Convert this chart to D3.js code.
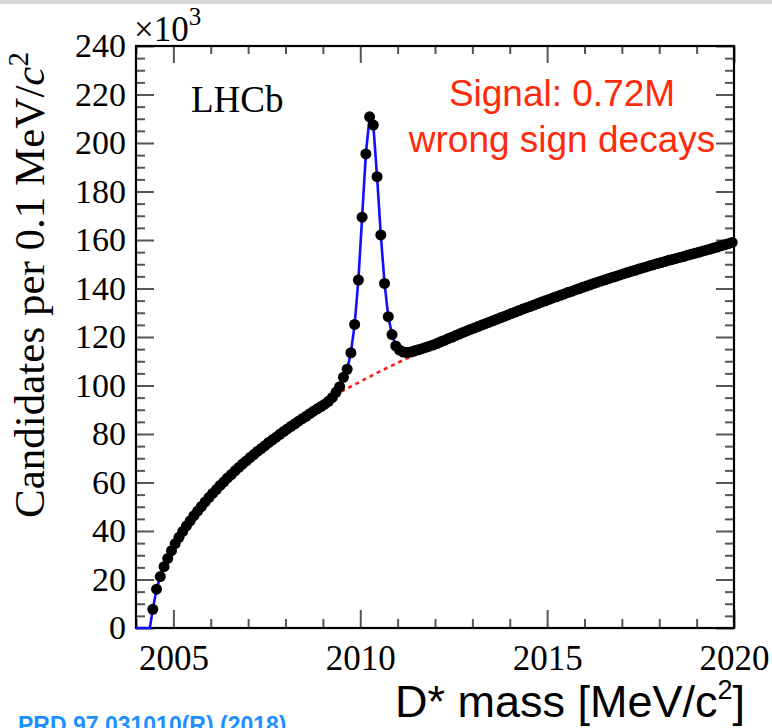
<!DOCTYPE html>
<html>
<head>
<meta charset="utf-8">
<script src="https://cdn.jsdelivr.net/npm/d3@7"></script>
<style>
  body { margin: 0; background: #fff; }
  svg { display: block; }
</style>
</head>
<body>
<div class="chart"></div>
<script>
// bin centres every 0.1 MeV starting at 2004.45
const massStart = 2004.45;
const massStep = 0.1;
const candidates = [
  7.7, 16.0, 21.2, 25.3, 28.7, 31.9, 34.8, 37.4, 39.8, 42.1,
  44.2, 46.3, 48.2, 50.1, 52.0, 53.8, 55.5, 57.1, 58.8, 60.3,
  61.9, 63.3, 64.8, 66.2, 67.6, 68.9, 70.3, 71.5, 72.8, 74.0,
  75.2, 76.5, 77.6, 78.7, 79.9, 81.0, 82.1, 83.2, 84.2, 85.3,
  86.3, 87.3, 88.4, 89.4, 90.4, 91.3, 92.3, 93.5, 95.0, 97.2,
  99.5, 103.4, 106.7, 113.5, 125.2, 143.5, 169.4, 195.5, 210.8, 207.4,
  186.1, 162.1, 142.1, 128.4, 121.0, 116.3, 114.6, 113.8, 113.6, 113.8,
  114.3, 114.7, 115.2, 115.7, 116.2, 116.7, 117.3, 118.0, 118.6, 119.3,
  119.9, 120.6, 121.2, 121.9, 122.5, 123.1, 123.7, 124.3, 124.9, 125.5,
  126.1, 126.7, 127.3, 127.9, 128.5, 129.1, 129.7, 130.3, 130.9, 131.5,
  132.1, 132.6, 133.2, 133.8, 134.4, 134.9, 135.5, 136.1, 136.6, 137.2,
  137.7, 138.3, 138.8, 139.4, 139.9, 140.5, 141.0, 141.5, 142.1, 142.6,
  143.1, 143.6, 144.1, 144.6, 145.1, 145.6, 146.1, 146.6, 147.1, 147.5,
  148.0, 148.5, 148.9, 149.4, 149.8, 150.3, 150.7, 151.1, 151.6, 152.0,
  152.4, 152.8, 153.2, 153.7, 154.1, 154.5, 154.9, 155.4, 155.8, 156.2,
  156.7, 157.1, 157.6, 158.0, 158.5, 159.0
];

// fit below threshold (flat at zero)
const fitStartMass = [2004.0, 2004.37];
const fitStartValue = [0, 0];

// combinatorial background under the peak
const bgMass = [2009.3, 2009.5, 2009.7, 2009.9, 2010.1, 2010.3, 2010.5, 2010.7, 2010.9, 2011.1, 2011.3, 2011.5];
const bgValue = [96.0, 97.6, 99.2, 100.8, 102.4, 104.0, 105.6, 107.1, 108.6, 110.1, 111.5, 112.8];

const xMajorTicks = [2005, 2010, 2015, 2020];
const xMinorTicks = d3.range(2004, 2021, 1).filter((d) => d % 5 !== 0);
const yMajorTicks = d3.range(0, 241, 20);
const yMinorTicks = d3.range(0, 241, 5).filter((d) => d % 20 !== 0);

const width = 772;
const height = 728;
const frame = {left: 136, right: 734, top: 46, bottom: 628};

const serif = "'Liberation Serif', 'Times New Roman', serif";
const sans = "'Liberation Sans', Arial, Helvetica, sans-serif";

const svg = d3.select("div.chart").append("svg")
  .attr("width", width)
  .attr("height", height);

// faint grey strip along the top edge
svg.append("rect")
  .attr("x", 0).attr("y", 0)
  .attr("width", width).attr("height", 4)
  .attr("fill", "#d6d6d6");

const xScale = d3.scaleLinear()
  .domain([2004, 2020])
  .range([frame.left, frame.right]);
const yScale = d3.scaleLinear()
  .domain([0, 240])
  .range([frame.bottom, frame.top]);

const points = candidates.map((v, i) => ({mass: massStart + i * massStep, value: v}));

const axisStyle = (g) => {
  g.select(".domain").remove();
  g.selectAll(".tick line").attr("stroke", "#555").attr("stroke-width", 2);
  g.selectAll(".tick text").attr("fill", "#000");
};

// bottom axis
svg.append("g")
  .attr("transform", `translate(0, ${frame.bottom})`)
  .call(d3.axisBottom(xScale).tickValues(xMajorTicks).tickSize(-18).tickPadding(17).tickFormat(d3.format("d")))
  .call(axisStyle)
  .selectAll("text")
  .attr("font-family", serif)
  .attr("font-size", 35);
svg.append("g")
  .attr("transform", `translate(0, ${frame.bottom})`)
  .call(d3.axisBottom(xScale).tickValues(xMinorTicks).tickSize(-9).tickFormat(""))
  .call(axisStyle);

// top axis
svg.append("g")
  .attr("transform", `translate(0, ${frame.top})`)
  .call(d3.axisTop(xScale).tickValues(xMajorTicks).tickSize(-17).tickFormat(""))
  .call(axisStyle);
svg.append("g")
  .attr("transform", `translate(0, ${frame.top})`)
  .call(d3.axisTop(xScale).tickValues(xMinorTicks).tickSize(-8).tickFormat(""))
  .call(axisStyle);

// left axis
svg.append("g")
  .attr("transform", `translate(${frame.left}, 0)`)
  .call(d3.axisLeft(yScale).tickValues(yMajorTicks).tickSize(-18).tickPadding(10).tickFormat(d3.format("d")))
  .call(axisStyle)
  .selectAll("text")
  .attr("font-family", serif)
  .attr("font-size", 34);
svg.append("g")
  .attr("transform", `translate(${frame.left}, 0)`)
  .call(d3.axisLeft(yScale).tickValues(yMinorTicks).tickSize(-9).tickFormat(""))
  .call(axisStyle);

// right axis
svg.append("g")
  .attr("transform", `translate(${frame.right}, 0)`)
  .call(d3.axisRight(yScale).tickValues(yMajorTicks).tickSize(-18).tickFormat(""))
  .call(axisStyle);
svg.append("g")
  .attr("transform", `translate(${frame.right}, 0)`)
  .call(d3.axisRight(yScale).tickValues(yMinorTicks).tickSize(-9).tickFormat(""))
  .call(axisStyle);

svg.append("rect")
  .attr("x", frame.left)
  .attr("y", frame.top)
  .attr("width", frame.right - frame.left)
  .attr("height", frame.bottom - frame.top)
  .attr("fill", "none")
  .attr("stroke", "#000")
  .attr("stroke-width", 2.2);

const chart = svg.append("g").attr("class", "chart");

const line = d3.line()
  .x((d) => xScale(d.mass))
  .y((d) => yScale(d.value));

const bgPoints = bgMass.map((m, i) => ({mass: m, value: bgValue[i]}));
chart.append("path")
  .datum(bgPoints)
  .attr("d", line)
  .attr("fill", "none")
  .attr("stroke", "#ff1a1a")
  .attr("stroke-width", 2.6)
  .attr("stroke-dasharray", "4,4");

const fitPoints = fitStartMass.map((m, i) => ({mass: m, value: fitStartValue[i]})).concat(points);
chart.append("path")
  .datum(fitPoints)
  .attr("d", line)
  .attr("fill", "none")
  .attr("stroke", "#1010ff")
  .attr("stroke-width", 2.6);

chart.selectAll("circle.point")
  .data(points)
  .enter()
  .append("circle")
  .attr("class", "point")
  .attr("cx", (d) => xScale(d.mass))
  .attr("cy", (d) => yScale(d.value))
  .attr("r", 5.5)
  .attr("fill", "#000");

// texts
const exponent = svg.append("text")
  .attr("x", frame.left - 2)
  .attr("y", 41)
  .attr("font-family", serif)
  .attr("font-size", 35)
  .text("\u00d710");
exponent.append("tspan")
  .attr("dy", -16)
  .attr("font-size", 25)
  .text("3");

svg.append("text")
  .attr("x", 191)
  .attr("y", 112)
  .attr("font-family", serif)
  .attr("font-size", 37)
  .text("LHCb");

const yTitle = svg.append("text")
  .attr("transform", "translate(44, 285) rotate(-90)")
  .attr("text-anchor", "middle")
  .attr("font-family", serif)
  .attr("font-size", 43)
  .text("Candidates per 0.1 MeV/");
yTitle.append("tspan")
  .attr("font-style", "italic")
  .text("c");
yTitle.append("tspan")
  .attr("dy", -16)
  .attr("font-size", 29)
  .text("2");

const signal = svg.append("text")
  .attr("text-anchor", "middle")
  .attr("font-family", sans)
  .attr("font-size", 37)
  .attr("fill", "#ff2a0a");
signal.append("tspan").attr("x", 562).attr("y", 106).text("Signal: 0.72M");
signal.append("tspan").attr("x", 562).attr("y", 152).text("wrong sign decays");

const xTitle = svg.append("text")
  .attr("x", 745)
  .attr("y", 717)
  .attr("text-anchor", "end")
  .attr("font-family", sans)
  .attr("font-size", 45)
  .text("D* mass [MeV/c");
xTitle.append("tspan")
  .attr("dy", -18)
  .attr("font-size", 27)
  .text("2");
xTitle.append("tspan")
  .attr("dy", 18)
  .text("]");

svg.append("text")
  .attr("x", 18)
  .attr("y", 733)
  .attr("font-family", sans)
  .attr("font-weight", "bold")
  .attr("font-size", 23)
  .attr("fill", "#1e90ff")
  .text("PRD 97,031010(R) (2018)");
</script>
</body>
</html>
